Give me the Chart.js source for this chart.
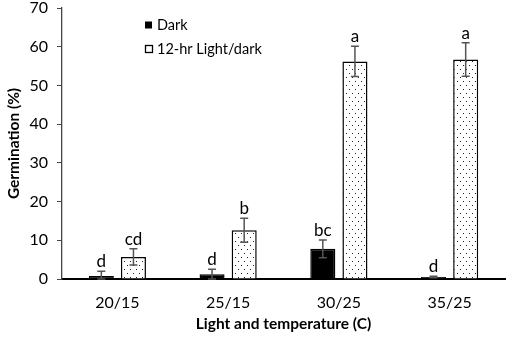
<!DOCTYPE html>
<html><head><meta charset="utf-8">
<script src="https://cdn.jsdelivr.net/npm/chart.js@4/dist/chart.umd.min.js"></script>
<style>html,body{margin:0;padding:0;background:#fff}#wrap{width:510px;height:337px}</style>
</head><body><div id="wrap"><canvas id="c" width="510" height="337"></canvas></div>
<script>
const categories = ["20/15","25/15","30/25","35/25"];
const seriesNames = ["Dark","12-hr Light/dark"];
const darkValues = [0.8, 1.2, 7.8, 0.5];
const lightValues = [5.7, 12.6, 56.2, 56.7];
const darkErrors = [1.2, 1.3, 2.3, 0.2];
const lightErrors = [2.1, 3.1, 3.9, 4.3];
const darkLetters = ["d","d","bc","d"];
const lightLetters = ["cd","b","a","a"];
const yTicks = [0,10,20,30,40,50,60,70];

const FONT = "Lato, 'Liberation Sans', sans-serif";

function dotPattern(){
  const p = document.createElement('canvas');
  p.width = 6; p.height = 8;
  const g = p.getContext('2d');
  g.fillStyle = '#fff'; g.fillRect(0,0,6,8);
  g.fillStyle = '#222';
  g.fillRect(1,1,1,1);
  g.fillRect(4,5,1,1);
  return g.createPattern(p,'repeat');
}

const errorPlugin = {
  id:'errs',
  afterDatasetsDraw(chart){
    const ctx = chart.ctx; const y = chart.scales.y;
    const errs = [darkErrors, lightErrors];
    const letters = [darkLetters, lightLetters];
    chart.data.datasets.forEach((ds,di)=>{
      const meta = chart.getDatasetMeta(di);
      meta.data.forEach((bar,i)=>{
        const v = ds.data[i], e = errs[di][i];
        const yt = y.getPixelForValue(v+e), yb = y.getPixelForValue(Math.max(0,v-e));
        ctx.save();
        ctx.strokeStyle = '#555'; ctx.lineWidth = 1.5;
        ctx.beginPath();
        ctx.moveTo(bar.x, yt); ctx.lineTo(bar.x, yb);
        ctx.moveTo(bar.x-4, yt); ctx.lineTo(bar.x+4, yt);
        ctx.moveTo(bar.x-4, yb); ctx.lineTo(bar.x+4, yb);
        ctx.stroke();
        ctx.fillStyle = '#000';
        ctx.font = '17px ' + FONT;
        ctx.textAlign = 'center'; ctx.textBaseline = 'alphabetic';
        ctx.fillText(letters[di][i], bar.x, yt - 4);
        ctx.restore();
      });
    });
  }
};

const legendPlugin = {
  id:'lg',
  afterDraw(chart){
    const ctx = chart.ctx;
    ctx.save();
    ctx.font = '14.5px ' + FONT;
    ctx.textBaseline = 'middle'; ctx.textAlign = 'left';
    const x0 = 145, ys = [25, 49];
    chart.data.datasets.forEach((ds,i)=>{
      if(i===0){ ctx.fillStyle='#000'; ctx.fillRect(x0, ys[i]-3.5, 7, 7); }
      else { ctx.strokeStyle='#000'; ctx.lineWidth=1.3; ctx.strokeRect(x0+0.5, ys[i]-3.5, 7, 7); }
      ctx.fillStyle='#000';
      ctx.fillText(ds.label, x0+12, ys[i]);
    });
    ctx.restore();
  }
};

new Chart(document.getElementById('c'), {
  type:'bar',
  data:{
    labels: categories,
    datasets:[
      {label: seriesNames[0], data: darkValues, backgroundColor:'#000', borderColor:'#000', borderWidth:1.5},
      {label: seriesNames[1], data: lightValues, backgroundColor: dotPattern(), borderColor:'#000', borderWidth:1.5}
    ]
  },
  options:{
    responsive:false, animation:false,
    categoryPercentage:0.58, barPercentage:0.78,
    layout:{padding:{top:8,right:5,left:4,bottom:2}},
    plugins:{legend:{display:false}, tooltip:{enabled:false}},
    scales:{
      x:{
        afterFit(s){ s.height = 56; s.paddingLeft = 0; s.paddingRight = 0; },
        grid:{display:false},
        border:{display:true,color:'#000',width:2},
        ticks:{color:'#000',font:{family:FONT,size:16},padding:6},
        title:{display:true,text:'Light and temperature (C)',color:'#000',font:{family:FONT,size:15.5,weight:'bold'},padding:{top:0,bottom:2}}
      },
      y:{
        min:0,max:70,
        afterFit(s){ s.width = 58; s.paddingTop = 0; s.paddingBottom = 0; },
        afterBuildTicks(s){ s.ticks = yTicks.map(v=>({value:v})); },
        grid:{display:true,drawOnChartArea:false,drawTicks:true,tickLength:5,color:'#444'},
        border:{display:true,color:'#444',width:1.3},
        ticks:{color:'#000',font:{family:FONT,size:16},padding:9},
        title:{display:true,text:'Germination (%)',color:'#000',font:{family:FONT,size:15.5,weight:'bold'},padding:{top:1,bottom:4}}
      }
    }
  },
  plugins:[errorPlugin, legendPlugin]
});
</script></body></html>
